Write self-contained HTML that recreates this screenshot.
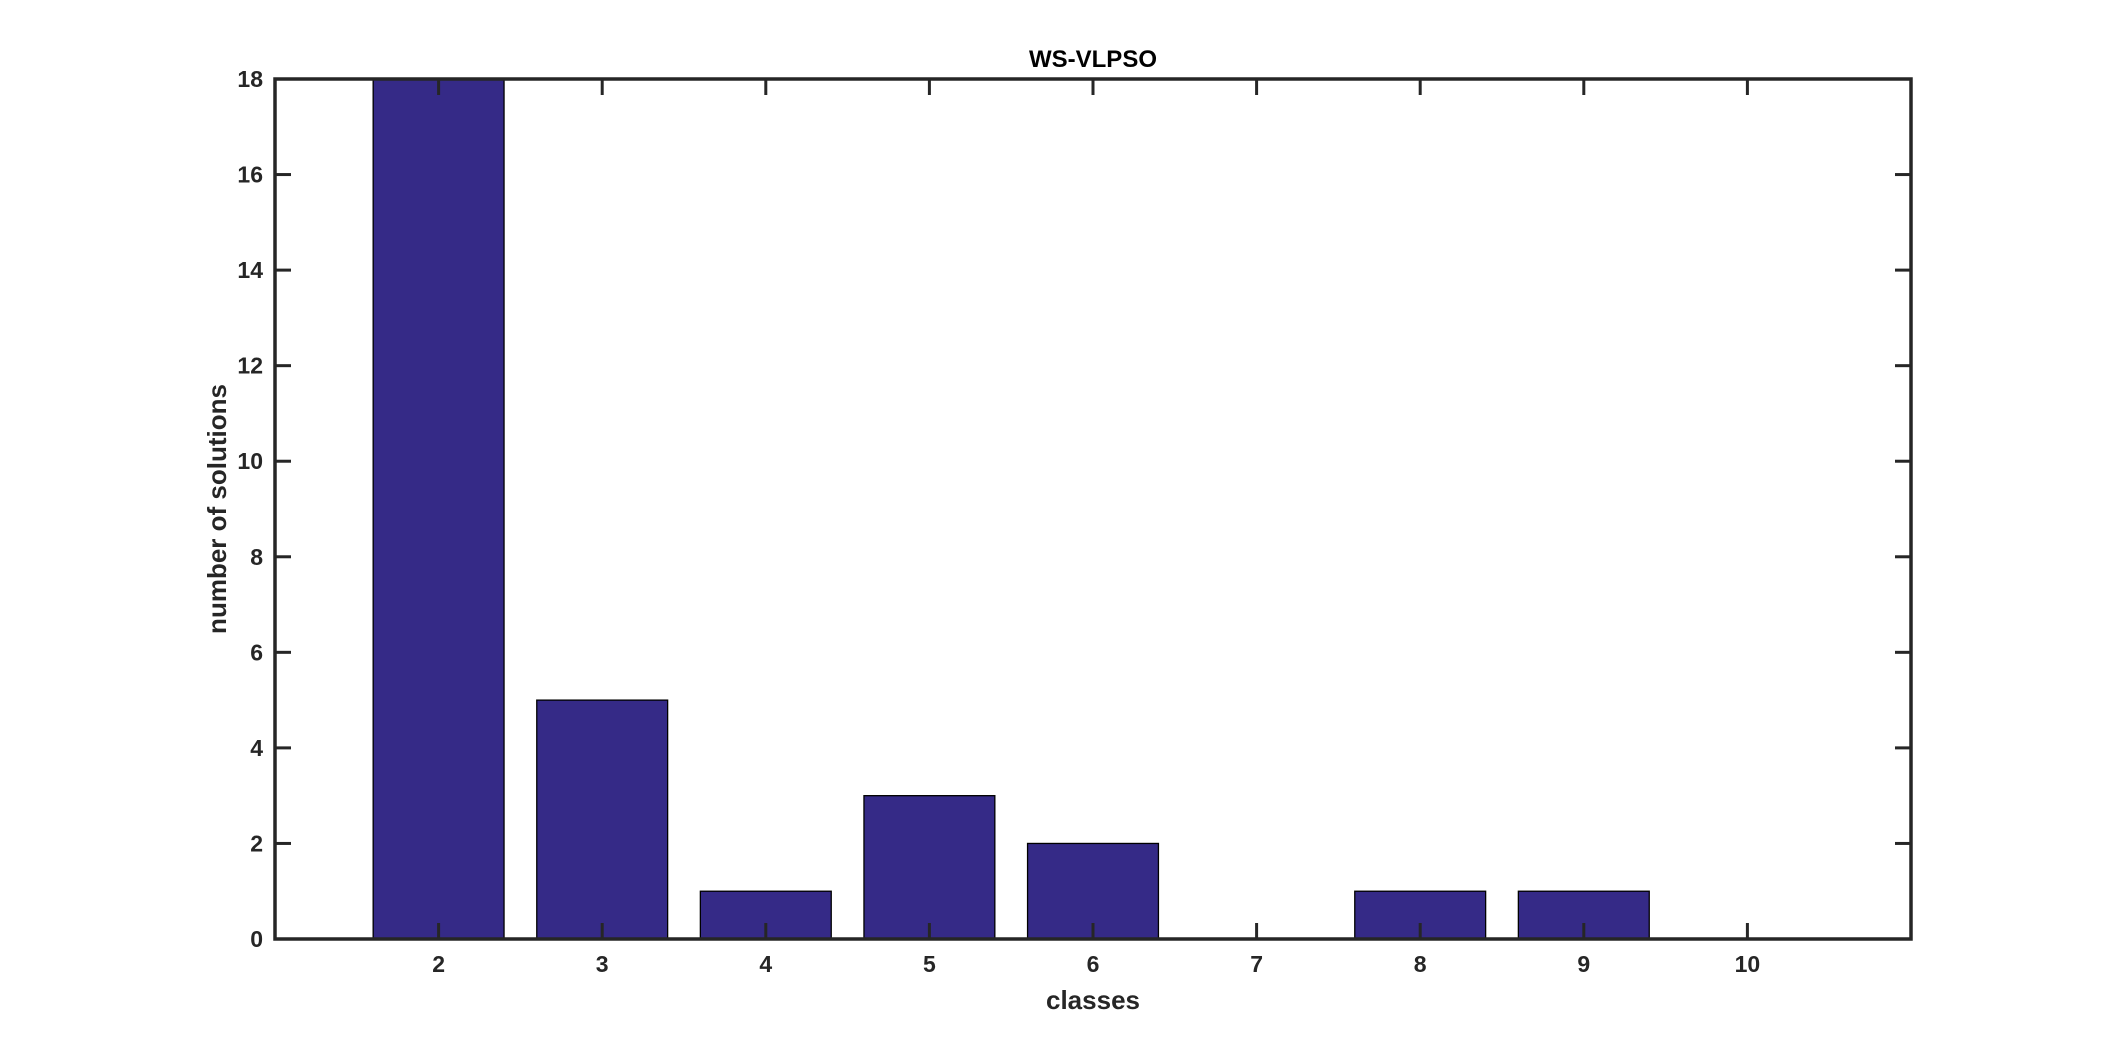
<!DOCTYPE html>
<html><head><meta charset="utf-8"><style>
body{margin:0;background:#fff;}
svg{display:block;font-family:"Liberation Sans",Arial,sans-serif;font-weight:bold;}
</style></head><body>
<svg id="chart" width="2109" height="1055">
<text x="1093" y="67" font-size="24" text-anchor="middle" fill="#000">WS-VLPSO</text>
<g id="bars"></g>
<rect x="275" y="79" width="1636" height="860" fill="none" stroke="#262626" stroke-width="3.5"/>
<g id="ticks"></g>
<text x="1093" y="1009" font-size="26" text-anchor="middle" fill="#262626">classes</text>
<text transform="translate(226,509) rotate(-90)" font-size="26" text-anchor="middle" fill="#262626">number of solutions</text>
</svg>
<script>
const categories=[2,3,4,5,6,7,8,9,10];
const values=[18,5,1,3,2,0,1,1,0];
const yTicks=[0,2,4,6,8,10,12,14,16,18];
const L=275,R=1911,T=79,B=939;
const xs=c=>L+(c-1)/(11-1)*(R-L);
const ys=v=>B-(v/18)*(B-T);
const NS="http://www.w3.org/2000/svg";
const bars=document.getElementById('bars'),ticks=document.getElementById('ticks');
const bw=0.8*(xs(2)-xs(1));
categories.forEach((c,i)=>{
 const r=document.createElementNS(NS,'rect');
 r.setAttribute('x',xs(c)-bw/2);r.setAttribute('y',ys(values[i]));
 r.setAttribute('width',bw);r.setAttribute('height',B-ys(values[i]));
 r.setAttribute('fill','#352a87');r.setAttribute('stroke','#000');r.setAttribute('stroke-width','1.3');
 
 
 bars.appendChild(r);
 [[B,B-16],[T,T+16]].forEach(p=>{
  const l=document.createElementNS(NS,'line');
  l.setAttribute('x1',xs(c));l.setAttribute('x2',xs(c));l.setAttribute('y1',p[0]);l.setAttribute('y2',p[1]);
  l.setAttribute('stroke','#262626');l.setAttribute('stroke-width','3');
  
  
  ticks.appendChild(l);
 });
 const t=document.createElementNS(NS,'text');
 t.setAttribute('x',xs(c));t.setAttribute('y',B+33);t.setAttribute('font-size','23');
 t.setAttribute('text-anchor','middle');t.setAttribute('fill','#262626');t.textContent=c;
 
 
 ticks.appendChild(t);
});
yTicks.forEach(v=>{
 [[L,L+16],[R,R-16]].forEach(p=>{
  const l=document.createElementNS(NS,'line');
  l.setAttribute('x1',p[0]);l.setAttribute('x2',p[1]);l.setAttribute('y1',ys(v));l.setAttribute('y2',ys(v));
  l.setAttribute('stroke','#262626');l.setAttribute('stroke-width','3');
  
  
  ticks.appendChild(l);
 });
 const t=document.createElementNS(NS,'text');
 t.setAttribute('x',L-12);t.setAttribute('y',ys(v)+8);t.setAttribute('font-size','23');
 t.setAttribute('text-anchor','end');t.setAttribute('fill','#262626');t.textContent=v;
 
 
 ticks.appendChild(t);
});
</script>
</body></html>
